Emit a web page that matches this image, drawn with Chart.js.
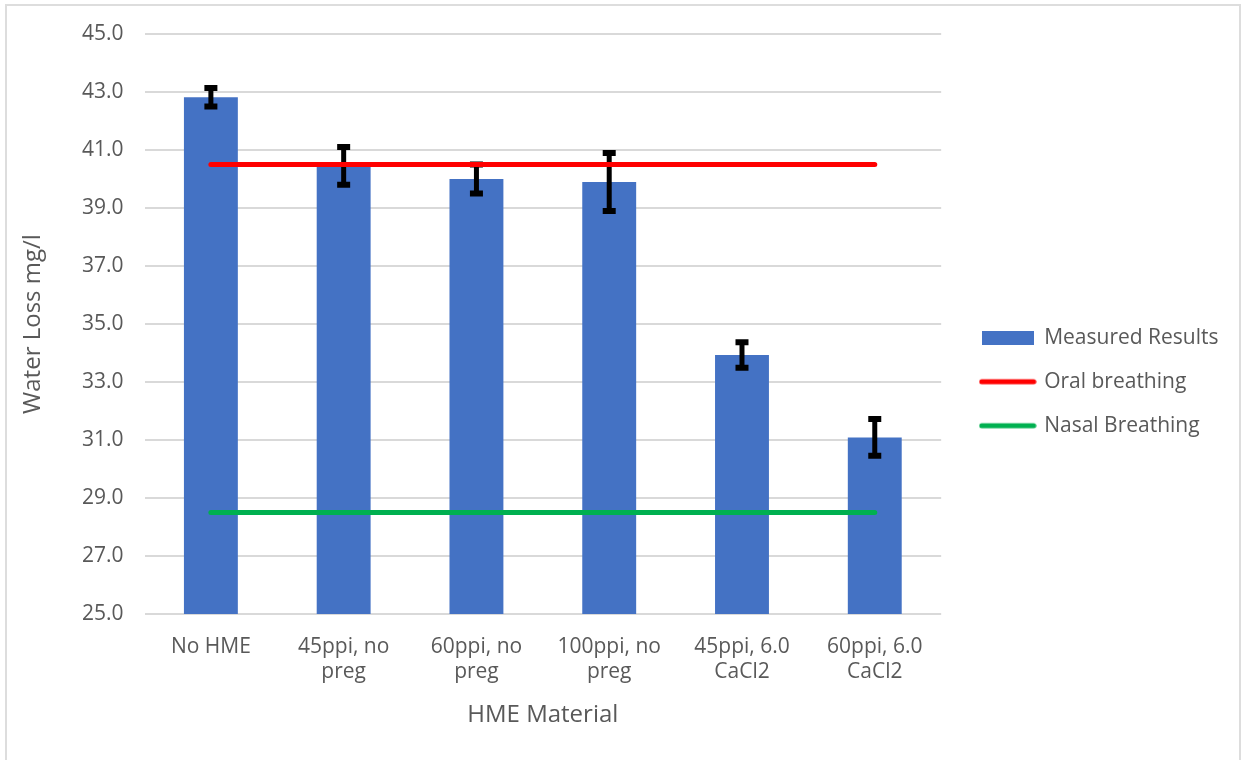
<!DOCTYPE html>
<html>
<head>
<meta charset="utf-8">
<script src="https://cdn.jsdelivr.net/npm/chart.js@4.4.1/dist/chart.umd.min.js"></script>
<style>
  html, body { margin: 0; padding: 0; background: #ffffff; }
  body { width: 1242px; height: 760px; position: relative; overflow: hidden; }
  #frame { position: absolute; left: 5px; top: 4px; width: 1236px; height: 800px;
           border: 2px solid #DDDDDD; box-sizing: border-box; }
  #wrap { position: absolute; left: 0; top: 0; width: 1242px; height: 760px; }
</style>
</head>
<body>
<div id="frame"></div>
<div id="wrap"><canvas id="chart"></canvas></div>
<script>
// ---- data ----
const categories = [
  ['No HME'],
  ['45ppi, no', 'preg'],
  ['60ppi, no', 'preg'],
  ['100ppi, no', 'preg'],
  ['45ppi, 6.0', 'CaCl2'],
  ['60ppi, 6.0', 'CaCl2']
];
const measuredResults = [42.82, 40.45, 40.0, 39.9, 33.93, 31.09];
const errorMargins    = [0.32, 0.65, 0.5, 1.0, 0.44, 0.63];
const oralBreathing   = [40.5, 40.5, 40.5, 40.5, 40.5, 40.5];
const nasalBreathing  = [28.5, 28.5, 28.5, 28.5, 28.5, 28.5];
const seriesNames = ['Measured Results', 'Oral breathing', 'Nasal Breathing'];
const yMin = 25, yMax = 45, yStep = 2;
const xTitle = 'HME Material';
const yTitle = 'Water Loss mg/l';

// ---- styles ----
const BLUE = '#4472C4', RED = '#FF0000', GREEN = '#00B050';
const TEXT = '#595959', GRID = '#D9D9D9';
const FONT = "'Open Sans', sans-serif";

Chart.defaults.font.family = FONT;
Chart.defaults.color = TEXT;

// legend geometry
const LEGEND_FONT = 21, LEGEND_PAD = 23, LEGEND_BOX = 52;
const PAD_RIGHT = 13.5;

function boxImage(color) {
  const c = document.createElement('canvas');
  c.width = 52; c.height = 14;
  const g = c.getContext('2d');
  g.fillStyle = color; g.fillRect(0, 0, 52, 14);
  return c;
}
function lineImage(color) {
  const c = document.createElement('canvas');
  c.width = 58; c.height = 14;
  const g = c.getContext('2d');
  g.strokeStyle = color; g.lineWidth = 5; g.lineCap = 'round';
  g.beginPath(); g.moveTo(3, 7); g.lineTo(55, 7); g.stroke();
  return c;
}
const legendImages = [boxImage(BLUE), lineImage(RED), lineImage(GREEN)];

const errorBarPlugin = {
  id: 'errorBars',
  afterDatasetDraw(chart, args) {
    if (args.index !== 0) return;
    const ctx = chart.ctx;
    const y = chart.scales.y;
    ctx.save();
    ctx.strokeStyle = '#000000';
    args.meta.data.forEach((bar, i) => {
      const x = bar.x;
      const top = y.getPixelForValue(measuredResults[i] + errorMargins[i]);
      const bot = y.getPixelForValue(measuredResults[i] - errorMargins[i]);
      ctx.lineWidth = 5;
      ctx.lineCap = 'butt';
      ctx.beginPath(); ctx.moveTo(x, top); ctx.lineTo(x, bot); ctx.stroke();
      ctx.lineWidth = 6;
      ctx.beginPath();
      ctx.moveTo(x - 6.5, top); ctx.lineTo(x + 6.5, top);
      ctx.moveTo(x - 6.5, bot); ctx.lineTo(x + 6.5, bot);
      ctx.stroke();
    });
    ctx.restore();
  }
};

new Chart(document.getElementById('chart'), {
  type: 'bar',
  data: {
    labels: categories,
    datasets: [
      {
        type: 'bar',
        label: seriesNames[0],
        data: measuredResults,
        backgroundColor: BLUE,
        borderWidth: 0,
        barPercentage: 0.406,
        categoryPercentage: 1.0,
        order: 3
      },
      {
        type: 'line',
        label: seriesNames[1],
        data: oralBreathing,
        borderColor: RED,
        backgroundColor: RED,
        borderWidth: 5,
        borderCapStyle: 'round',
        pointRadius: 0,
        fill: false,
        order: 1
      },
      {
        type: 'line',
        label: seriesNames[2],
        data: nasalBreathing,
        borderColor: GREEN,
        backgroundColor: GREEN,
        borderWidth: 5,
        borderCapStyle: 'round',
        pointRadius: 0,
        fill: false,
        order: 2
      }
    ]
  },
  options: {
    responsive: true,
    maintainAspectRatio: false,
    animation: false,
    devicePixelRatio: 1,
    layout: { padding: { top: 34, left: 0, right: PAD_RIGHT, bottom: 30.6 } },
    plugins: {
      tooltip: { enabled: false },
      legend: {
        position: 'right',
        align: 'center',
        maxWidth: 600,
        labels: {
          usePointStyle: true,
          pointStyleWidth: LEGEND_BOX,
          boxHeight: 14,
          padding: LEGEND_PAD,
          color: TEXT,
          font: { size: LEGEND_FONT },
          generateLabels(chart) {
            return chart.data.datasets.map((ds, i) => ({
              text: ds.label,
              pointStyle: legendImages[i],
              fillStyle: i === 0 ? BLUE : ds.borderColor,
              strokeStyle: 'rgba(0,0,0,0)',
              lineWidth: 0,
              hidden: false,
              datasetIndex: i,
              fontColor: TEXT
            }));
          }
        }
      }
    },
    scales: {
      x: {
        grid: { display: false, drawTicks: false },
        border: { display: false },
        ticks: { padding: 20.2, font: { size: 21, lineHeight: 1.2 }, color: TEXT, maxRotation: 0, autoSkip: false },
        title: { display: true, text: xTitle, font: { size: 24, lineHeight: 1.2 }, color: TEXT, padding: { top: 16, bottom: 0 } },
        afterFit(scale) { scale.height = 115.4; }
      },
      y: {
        min: yMin,
        max: yMax,
        ticks: {
          stepSize: yStep,
          padding: 21,
          font: { size: 21 },
          color: TEXT,
          callback: v => Number(v).toFixed(1)
        },
        grid: { color: GRID, lineWidth: 2, drawTicks: false },
        border: { display: false },
        title: { display: true, text: yTitle, font: { size: 24, lineHeight: 1.2 }, color: TEXT, padding: { top: 18.6, bottom: 0 } },
        afterFit(scale) { scale.width = 144.5; }
      },
      y2: {
        position: 'right',
        display: true,
        grid: { display: false, drawTicks: false },
        border: { display: false },
        ticks: { display: false },
        afterFit(scale) { scale.width = 17.5; }
      }
    }
  },
  plugins: [errorBarPlugin]
});
</script>
</body>
</html>
